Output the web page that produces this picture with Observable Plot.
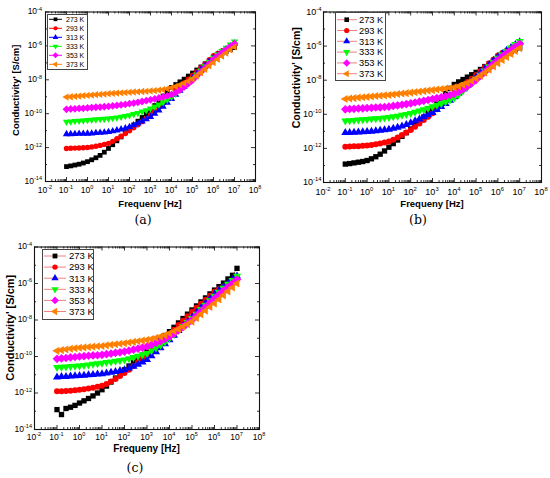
<!DOCTYPE html>
<html><head><meta charset="utf-8">
<script src="https://cdn.jsdelivr.net/npm/d3@7"></script>
<script src="https://cdn.jsdelivr.net/npm/@observablehq/plot@0.6"></script>
<style>
body{margin:0;background:#fff;}
#root{position:relative;width:550px;height:478px;overflow:hidden;background:#fff;font-family:"Liberation Sans",Arial,sans-serif;}
.panel{position:absolute;}
.legend{position:absolute;}
</style></head><body><div id="root"></div>
<script>
// ---------- data ----------
const temps = ["273 K","293 K","313 K","333 K","353 K","373 K"];
const colors = ["#000000","#ff0000","#0000ff","#00ff00","#ff00ff","#ff8000"];
// log10 of frequency [Hz]
const freqExp = [-1,-0.8,-0.6,-0.4,-0.2,0,0.2,0.4,0.6,0.8,1,1.2,1.4,1.6,1.8,2,2.2,2.4,2.6,2.8,3,3.2,3.4,3.6,3.8,4,4.2,4.4,4.6,4.8,5,5.2,5.4,5.6,5.8,6,6.2,6.4,6.6,6.8,7];
const xTickExp = [-2,-1,0,1,2,3,4,5,6,7,8];
const yTickExp = [-14,-12,-10,-8,-6,-4];
const panelCaptions = ["(a)","(b)","(c)"];
const xTitles = ["Frequenv [Hz]","Frequeny [Hz]","Frequeny [Hz]"];
const yTitle = "Conductivity' [S/cm]";

// log10 of conductivity [S/cm], panel (a)
const a273 = [-13.12,-13.08,-13.03,-12.98,-12.91,-12.83,-12.72,-12.6,-12.46,-12.27,-12.05,-11.83,-11.6,-11.37,-11.12,-10.88,-10.66,-10.44,-10.22,-10.01,-9.8,-9.52,-9.24,-8.96,-8.68,-8.45,-8.28,-8.12,-7.96,-7.78,-7.6,-7.42,-7.24,-7.06,-6.88,-6.7,-6.58,-6.46,-6.34,-6.22,-6.1];
const a293 = [-12.05,-12.04,-12.03,-12.02,-12.01,-11.99,-11.96,-11.92,-11.87,-11.81,-11.75,-11.63,-11.48,-11.33,-11.17,-11.01,-10.83,-10.65,-10.47,-10.28,-10.09,-9.85,-9.6,-9.36,-9.11,-8.86,-8.63,-8.41,-8.19,-7.97,-7.75,-7.52,-7.28,-7.05,-6.81,-6.58,-6.44,-6.3,-6.16,-6.02,-5.88];
const a313 = [-11.2,-11.2,-11.19,-11.18,-11.18,-11.17,-11.16,-11.14,-11.12,-11.1,-11.07,-11.03,-10.98,-10.92,-10.86,-10.78,-10.68,-10.57,-10.45,-10.32,-10.19,-10.0,-9.8,-9.58,-9.35,-9.12,-8.88,-8.64,-8.4,-8.15,-7.9,-7.65,-7.41,-7.17,-6.92,-6.68,-6.51,-6.35,-6.19,-6.02,-5.86];
const a333 = [-10.48,-10.46,-10.44,-10.42,-10.4,-10.38,-10.36,-10.34,-10.32,-10.31,-10.29,-10.26,-10.23,-10.19,-10.14,-10.09,-10.03,-9.96,-9.88,-9.8,-9.7,-9.58,-9.46,-9.33,-9.18,-9.02,-8.82,-8.61,-8.4,-8.18,-7.95,-7.7,-7.45,-7.2,-6.95,-6.7,-6.5,-6.31,-6.12,-5.93,-5.75];
const a353 = [-9.74,-9.72,-9.71,-9.69,-9.68,-9.66,-9.64,-9.62,-9.61,-9.59,-9.57,-9.54,-9.51,-9.48,-9.45,-9.41,-9.37,-9.33,-9.28,-9.23,-9.18,-9.13,-9.07,-9.01,-8.95,-8.88,-8.76,-8.6,-8.42,-8.23,-8.02,-7.78,-7.54,-7.29,-7.05,-6.8,-6.6,-6.41,-6.22,-6.04,-5.86];
const a373 = [-9.02,-9.0,-8.98,-8.96,-8.94,-8.92,-8.9,-8.88,-8.86,-8.84,-8.82,-8.8,-8.78,-8.77,-8.75,-8.74,-8.72,-8.71,-8.69,-8.68,-8.66,-8.64,-8.61,-8.58,-8.53,-8.47,-8.39,-8.3,-8.2,-8.08,-7.95,-7.77,-7.58,-7.38,-7.18,-6.98,-6.79,-6.6,-6.42,-6.24,-6.06];

// panel (b)
const b273 = [-12.92,-12.89,-12.85,-12.81,-12.77,-12.71,-12.61,-12.49,-12.34,-12.15,-11.93,-11.72,-11.51,-11.29,-11.08,-10.86,-10.63,-10.39,-10.16,-9.92,-9.69,-9.39,-9.08,-8.78,-8.48,-8.25,-8.1,-7.96,-7.82,-7.68,-7.54,-7.37,-7.2,-7.03,-6.86,-6.69,-6.56,-6.44,-6.32,-6.2,-6.1];
const b293 = [-11.9,-11.89,-11.88,-11.87,-11.85,-11.83,-11.8,-11.76,-11.71,-11.66,-11.6,-11.49,-11.36,-11.22,-11.07,-10.92,-10.73,-10.54,-10.34,-10.14,-9.94,-9.7,-9.46,-9.22,-8.98,-8.75,-8.54,-8.33,-8.12,-7.91,-7.7,-7.47,-7.24,-7.01,-6.78,-6.55,-6.41,-6.27,-6.14,-6.0,-5.87];
const b313 = [-11.08,-11.07,-11.06,-11.05,-11.04,-11.02,-11.0,-10.98,-10.95,-10.92,-10.88,-10.83,-10.77,-10.7,-10.61,-10.5,-10.39,-10.28,-10.16,-10.03,-9.9,-9.73,-9.55,-9.37,-9.18,-8.98,-8.76,-8.53,-8.3,-8.06,-7.82,-7.58,-7.34,-7.1,-6.86,-6.62,-6.44,-6.26,-6.09,-5.92,-5.76];
const b333 = [-10.39,-10.37,-10.35,-10.33,-10.31,-10.29,-10.27,-10.25,-10.23,-10.2,-10.18,-10.14,-10.1,-10.05,-10.0,-9.94,-9.87,-9.8,-9.72,-9.64,-9.55,-9.46,-9.37,-9.27,-9.16,-9.03,-8.84,-8.63,-8.41,-8.18,-7.94,-7.7,-7.45,-7.2,-6.95,-6.7,-6.5,-6.3,-6.1,-5.9,-5.72];
const b353 = [-9.71,-9.69,-9.68,-9.66,-9.65,-9.63,-9.62,-9.6,-9.59,-9.57,-9.55,-9.51,-9.48,-9.44,-9.4,-9.36,-9.31,-9.26,-9.21,-9.16,-9.1,-9.05,-9.0,-8.94,-8.88,-8.8,-8.68,-8.53,-8.36,-8.18,-7.98,-7.75,-7.52,-7.28,-7.04,-6.8,-6.6,-6.41,-6.22,-6.04,-5.86];
const b373 = [-9.1,-9.07,-9.05,-9.02,-9.0,-8.98,-8.96,-8.93,-8.91,-8.89,-8.87,-8.84,-8.81,-8.78,-8.76,-8.73,-8.7,-8.67,-8.64,-8.61,-8.58,-8.55,-8.52,-8.49,-8.46,-8.42,-8.35,-8.26,-8.16,-8.04,-7.9,-7.74,-7.56,-7.38,-7.19,-7.0,-6.82,-6.64,-6.46,-6.29,-6.12];

// panel (c)
const c273 = [-12.91,-13.18,-12.85,-12.78,-12.68,-12.55,-12.43,-12.3,-12.16,-12.0,-11.82,-11.62,-11.4,-11.18,-10.95,-10.73,-10.52,-10.32,-10.12,-9.93,-9.73,-9.5,-9.28,-9.06,-8.85,-8.64,-8.4,-8.16,-7.92,-7.68,-7.45,-7.23,-7.01,-6.79,-6.57,-6.36,-6.17,-5.98,-5.75,-5.55,-5.17];
const c293 = [-11.91,-11.9,-11.89,-11.87,-11.85,-11.82,-11.79,-11.75,-11.71,-11.66,-11.6,-11.5,-11.37,-11.23,-11.07,-10.91,-10.72,-10.52,-10.32,-10.12,-9.91,-9.68,-9.46,-9.23,-9.0,-8.78,-8.53,-8.28,-8.04,-7.8,-7.55,-7.33,-7.11,-6.89,-6.67,-6.45,-6.3,-6.16,-6.02,-5.87,-5.73];
const c313 = [-11.13,-11.11,-11.1,-11.08,-11.07,-11.05,-11.03,-11.01,-10.99,-10.97,-10.95,-10.91,-10.87,-10.83,-10.78,-10.73,-10.64,-10.54,-10.43,-10.31,-10.18,-9.97,-9.75,-9.53,-9.31,-9.09,-8.84,-8.59,-8.34,-8.1,-7.85,-7.6,-7.34,-7.09,-6.83,-6.58,-6.38,-6.18,-5.98,-5.79,-5.6];
const c333 = [-10.6,-10.58,-10.56,-10.54,-10.53,-10.51,-10.48,-10.45,-10.42,-10.39,-10.36,-10.32,-10.29,-10.25,-10.22,-10.18,-10.12,-10.05,-9.98,-9.9,-9.82,-9.68,-9.53,-9.37,-9.19,-9.0,-8.78,-8.56,-8.35,-8.13,-7.91,-7.67,-7.42,-7.18,-6.93,-6.69,-6.47,-6.25,-6.03,-5.82,-5.6];
const c353 = [-10.13,-10.1,-10.08,-10.05,-10.03,-10.0,-9.98,-9.96,-9.94,-9.93,-9.91,-9.87,-9.84,-9.8,-9.77,-9.73,-9.68,-9.62,-9.57,-9.51,-9.45,-9.36,-9.26,-9.16,-9.04,-8.91,-8.74,-8.56,-8.38,-8.19,-8.0,-7.76,-7.53,-7.29,-7.06,-6.82,-6.61,-6.4,-6.19,-5.99,-5.78];
const c373 = [-9.69,-9.65,-9.62,-9.58,-9.55,-9.52,-9.5,-9.48,-9.46,-9.44,-9.42,-9.39,-9.36,-9.33,-9.3,-9.27,-9.23,-9.2,-9.16,-9.13,-9.09,-9.04,-8.98,-8.91,-8.83,-8.73,-8.62,-8.5,-8.37,-8.23,-8.09,-7.89,-7.69,-7.49,-7.29,-7.09,-6.87,-6.65,-6.43,-6.22,-6.0];

// ---------- symbols ----------
const s3 = Math.sqrt(3);
const triDown = {draw(ctx, size){ const y = -Math.sqrt(size/(s3*3)); ctx.moveTo(0,-2*y); ctx.lineTo(-s3*y, y); ctx.lineTo(s3*y, y); ctx.closePath(); }};
const triLeft = {draw(ctx, size){ const y = -Math.sqrt(size/(s3*3)); ctx.moveTo(2*y,0); ctx.lineTo(-y, s3*y); ctx.lineTo(-y, -s3*y); ctx.closePath(); }};
const diamond = {draw(ctx, size){ const r = Math.sqrt(size/2)*1.15; ctx.moveTo(0,-r); ctx.lineTo(r,0); ctx.lineTo(0,r); ctx.lineTo(-r,0); ctx.closePath(); }};
const symbols = [d3.symbolSquare, d3.symbolCircle, d3.symbolTriangle, triDown, diamond, triLeft];

const FONT = "Liberation Sans, Arial, sans-serif";
const root = document.getElementById("root");

function powText(g, x, y, e, size, anchor) {
  const t = g.append("text").attr("x", x).attr("y", y).attr("text-anchor", anchor)
    .attr("font-size", size).attr("font-family", FONT).attr("fill", "#000");
  t.append("tspan").text("10");
  t.append("tspan").attr("font-size", size * 0.65).attr("dy", -size * 0.42).text(String(e));
}

function panel(cfg) {
  const {vals, width, height, mL, mR, mT, mB} = cfg;
  const innerW = width - mL - mR, innerH = height - mT - mB;
  const marks = [];
  temps.forEach((t, j) => {
    const rows = freqExp.map((e, i) => ({f: 10 ** e, s: 10 ** vals[j][i]}));
    marks.push(Plot.line(rows, {x: "f", y: "s", stroke: cfg.lineColor || colors[j], strokeWidth: cfg.lineWidth}));
    marks.push(Plot.dot(rows, {x: "f", y: "s", fill: colors[j], stroke: "none", symbol: symbols[j], r: cfg.r}));
  });
  const xMajor = xTickExp.map(e => 10 ** e);
  const xMinor = [];
  for (let e = -2; e < 8; e++) for (let k = 2; k <= 9; k++) xMinor.push(k * 10 ** e);
  const yMajor = yTickExp.map(e => 10 ** e);
  const yMinor = [-13,-11,-9,-7,-5].map(e => 10 ** e);
  const tk = {stroke: "#000", strokeWidth: 0.8};
  marks.push(
    Plot.tickX(xMajor, {x: d => d, ...tk, insetTop: innerH - 4}),
    Plot.tickX(xMinor, {x: d => d, ...tk, insetTop: innerH - 2}),
    Plot.tickX(xMajor, {x: d => d, ...tk, insetBottom: innerH - 4}),
    Plot.tickX(xMinor, {x: d => d, ...tk, insetBottom: innerH - 2}),
    Plot.tickY(yMajor, {y: d => d, ...tk, insetRight: innerW - 4}),
    Plot.tickY(yMinor, {y: d => d, ...tk, insetRight: innerW - 2}),
    Plot.tickY(yMajor, {y: d => d, ...tk, insetLeft: innerW - 4}),
    Plot.tickY(yMinor, {y: d => d, ...tk, insetLeft: innerW - 2}),
    Plot.frame({stroke: "#111", strokeWidth: 1.1})
  );
  const svg = Plot.plot({
    width, height, marginLeft: mL, marginRight: mR, marginTop: mT, marginBottom: mB,
    x: {type: "log", domain: [1e-2, 1e8], axis: null},
    y: {type: "log", domain: [1e-14, 1e-4], axis: null},
    style: {fontFamily: FONT, background: "transparent", overflow: "visible"},
    marks
  });
  const sx = svg.scale("x"), sy = svg.scale("y");
  const g = d3.select(svg).append("g");
  const bottom = height - mB, cx = (mL + width - mR) / 2, cy = (mT + bottom) / 2;
  const s = cfg.tickFont;
  xTickExp.forEach(e => powText(g, sx.apply(10 ** e), bottom + cfg.xTickDy + 0.35 * s, e, s, "middle"));
  yTickExp.forEach(e => powText(g, mL - cfg.yTickGap, sy.apply(10 ** e) + 0.35 * s, e, s, "end"));
  g.append("text").attr("x", cx).attr("y", bottom + cfg.xTitleDy + 0.35 * cfg.xTitleFont)
    .attr("text-anchor", "middle").attr("font-size", cfg.xTitleFont).attr("font-weight", "bold")
    .attr("font-family", FONT).attr("fill", "#000").text(cfg.xTitle);
  g.append("text").attr("transform", `translate(${mL + cfg.yTitleDx},${cy + cfg.yTitleDy}) rotate(-90)`)
    .attr("dy", "0.35em").attr("text-anchor", "middle").attr("font-size", cfg.yTitleFont).attr("font-weight", "bold")
    .attr("font-family", FONT).attr("fill", "#000").text(yTitle);
  g.append("text").attr("x", cx + cfg.captionDx).attr("y", bottom + cfg.captionDy + 4.3)
    .attr("text-anchor", "middle").attr("font-size", 12.5)
    .attr("font-family", "DejaVu Serif, Liberation Serif, serif").attr("fill", "#000").text(cfg.caption);

  const div = document.createElement("div");
  div.className = "panel";
  div.style.left = cfg.left + "px";
  div.style.top = cfg.top + "px";
  div.appendChild(svg);
  // legend
  const L = cfg.legend;
  const lg = d3.create("svg").attr("width", L.w).attr("height", L.h)
    .attr("class", "legend").style("left", L.left + "px").style("top", L.top + "px");
  lg.append("rect").attr("x", 0.5).attr("y", 0.5).attr("width", L.w - 1).attr("height", L.h - 1)
    .attr("fill", "#fff").attr("stroke", "#444").attr("stroke-width", 1);
  temps.forEach((t, j) => {
    const y = L.row0 + j * L.step;
    lg.append("line").attr("x1", L.l0).attr("x2", L.l1).attr("y1", y).attr("y2", y)
      .attr("stroke", cfg.lineColor || colors[j]).attr("stroke-width", 1);
    lg.append("path").attr("transform", `translate(${L.mx},${y})`)
      .attr("d", d3.symbol(symbols[j], Math.PI * L.r * L.r)()).attr("fill", colors[j]);
    lg.append("text").attr("x", L.tx).attr("y", y).attr("dy", "0.35em")
      .attr("font-size", L.font).attr("font-family", FONT).attr("fill", "#000").text(t);
  });
  div.appendChild(lg.node());
  root.appendChild(div);
}

panel({vals: [a273,a293,a313,a333,a353,a373], left: 0, top: 0, width: 275, height: 232,
  mL: 45, mR: 20, mT: 11.5, mB: 51, r: 2.7, lineWidth: 0.8,
  tickFont: 8.5, yTickGap: 3, xTickDy: 9, xTitle: xTitles[0], xTitleFont: 9.5, xTitleDy: 23,
  yTitleFont: 9.5, yTitleDx: -29, yTitleDy: -6, caption: panelCaptions[0], captionDx: -7, captionDy: 39,
  legend: {left: 47, top: 14, w: 41, h: 56, row0: 5.3, step: 9, l0: 2, l1: 15, mx: 8.5, tx: 19, font: 7, r: 2.1}});

panel({vals: [b273,b293,b313,b333,b353,b373], left: 275, top: 0, width: 275, height: 232,
  mL: 48, mR: 9, mT: 11.5, mB: 50, r: 3.0, lineWidth: 1, lineColor: "#f08080",
  tickFont: 9, yTickGap: 1.5, xTickDy: 9.5, xTitle: xTitles[1], xTitleFont: 9.5, xTitleDy: 22,
  yTitleFont: 10.5, yTitleDx: -27, yTitleDy: -19, caption: panelCaptions[1], captionDx: -14, captionDy: 38,
  legend: {left: 60, top: 12.3, w: 51, h: 69, row0: 7.7, step: 10.8, l0: 2, l1: 22, mx: 11.7, tx: 24, font: 9.3, r: 2.6}});

panel({vals: [c273,c293,c313,c333,c353,c373], left: 0, top: 238, width: 275, height: 240,
  mL: 34, mR: 16, mT: 8.5, mB: 49, r: 3.0, lineWidth: 1, lineColor: "#f08080",
  tickFont: 8.5, yTickGap: 2, xTickDy: 8, xTitle: xTitles[2], xTitleFont: 10, xTitleDy: 19,
  yTitleFont: 11, yTitleDx: -24, yTitleDy: -10, caption: panelCaptions[2], captionDx: -11.5, captionDy: 39,
  legend: {left: 41.7, top: 11, w: 52, h: 71, row0: 7, step: 11.1, l0: 2, l1: 24, mx: 13, tx: 27, font: 9.5, r: 2.7}});
</script>
</body></html>
